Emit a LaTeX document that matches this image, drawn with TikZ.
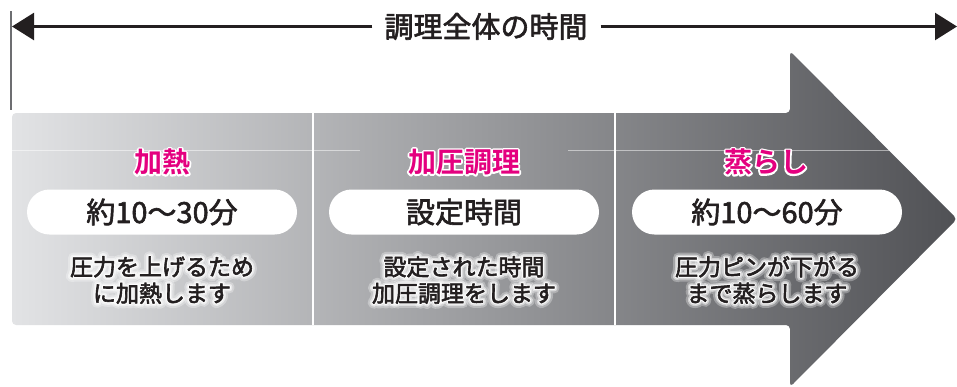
\documentclass[tikz,border=0pt]{standalone}
\usepackage{fontspec}
\setmainfont{Noto Sans CJK JP}[BoldFont=* Bold]
\usetikzlibrary{arrows.meta}
\definecolor{ink}{HTML}{231F20}
\definecolor{pinkm}{HTML}{E4007F}
\definecolor{lightg}{RGB}{226,227,229}
\definecolor{darkg}{RGB}{80,81,85}
\definecolor{tickg}{HTML}{6D6E71}
% text render modes through xdvipdfmx literals
\newcommand\strokeon[1]{\special{pdf:literal direct 1 Tr #1 w 1 j 1 J 1 1 1 RG}}
\newcommand\heavyon{\special{pdf:literal direct 2 Tr 0.6 w 1 j 0.137 0.122 0.125 RG}}
\newcommand\renderoff{\special{pdf:literal direct 0 Tr}}
\newcommand\glowdesc[3]{%
  \node[desc, opacity=0.3] at (#2) {\strokeon{10}#3\renderoff};
  \node[desc, opacity=0.5] at (#2) {\strokeon{6}#3\renderoff};
  \node[desc, opacity=0.85] at (#2) {\strokeon{3}#3\renderoff};
  \node[desc] (#1) at (#2) {\heavyon#3\renderoff};
}
\newcommand\outlinesect[3]{%
  \node[sect] at (#2) {\strokeon{3.5}#3\renderoff};
  \node[sect] (#1) at (#2) {#3};
}
\begin{document}
\begin{tikzpicture}[x=1pt,y=-1pt,
  every node/.style={inner sep=0pt, text=ink},
  pill/.style={fill=white, rounded corners=22.5pt, minimum width=270pt, minimum height=45pt, font=\fontsize{29}{30}\selectfont},
  sect/.style={font=\bfseries\fontsize{28}{30}\selectfont, text=pinkm},
  desc/.style={align=center, font=\fontsize{23}{26.5}\selectfont},
  topline/.style={draw=ink, line width=2.5pt, -{Triangle[length=22pt,width=27pt]}},
  divider/.style={draw=white, line width=2pt},
  guide/.style={draw=white, draw opacity=0.5, line width=0.8pt}
]
\useasboundingbox (0,0) rectangle (957,386);

% big arrow
\shade[left color=lightg, right color=darkg, rounded corners=4pt]
  (12,113) -- (790,113) -- (790,51) -- (957,219) -- (790,387) -- (790,325) -- (12,325) -- cycle;

% faint guide line
\draw[guide] (12,150) -- (360,150) (568,150) -- (889,150);

% dividers
\draw[divider] (313,113) -- (313,325);
\draw[divider] (615,113) -- (615,325);

% left tick
\draw[tickg, line width=1.5pt] (11,11) -- (11,110);

% top title and arrows
\node[font=\fontsize{29}{30}\selectfont] (title) at (486,26.5) {\heavyon 調理全体の時間\renderoff};
\coordinate (L) at (12,26.5);
\coordinate (R) at (957,26.5);
\draw[topline] ([xshift=-12pt]title.west) -- (L);
\draw[topline] ([xshift=13pt]title.east) -- (R);

% section titles
\outlinesect{s1}{162,162}{加熱}
\outlinesect{s2}{464,162}{加圧調理}
\outlinesect{s3}{766,162}{蒸らし}

% pills
\node[pill] (p1) at (162,212) {\heavyon 約10〜30分\renderoff};
\node[pill] (p2) at (464,212) {\heavyon 設定時間\renderoff};
\node[pill] (p3) at (767,212) {\heavyon 約10〜60分\renderoff};

% descriptions
\glowdesc{d1}{162,280}{圧力を上げるため\\に加熱します}
\glowdesc{d2}{464,280}{設定された時間\\加圧調理をします}
\glowdesc{d3}{767,280}{圧力ピンが下がる\\まで蒸らします}
\end{tikzpicture}
\end{document}
